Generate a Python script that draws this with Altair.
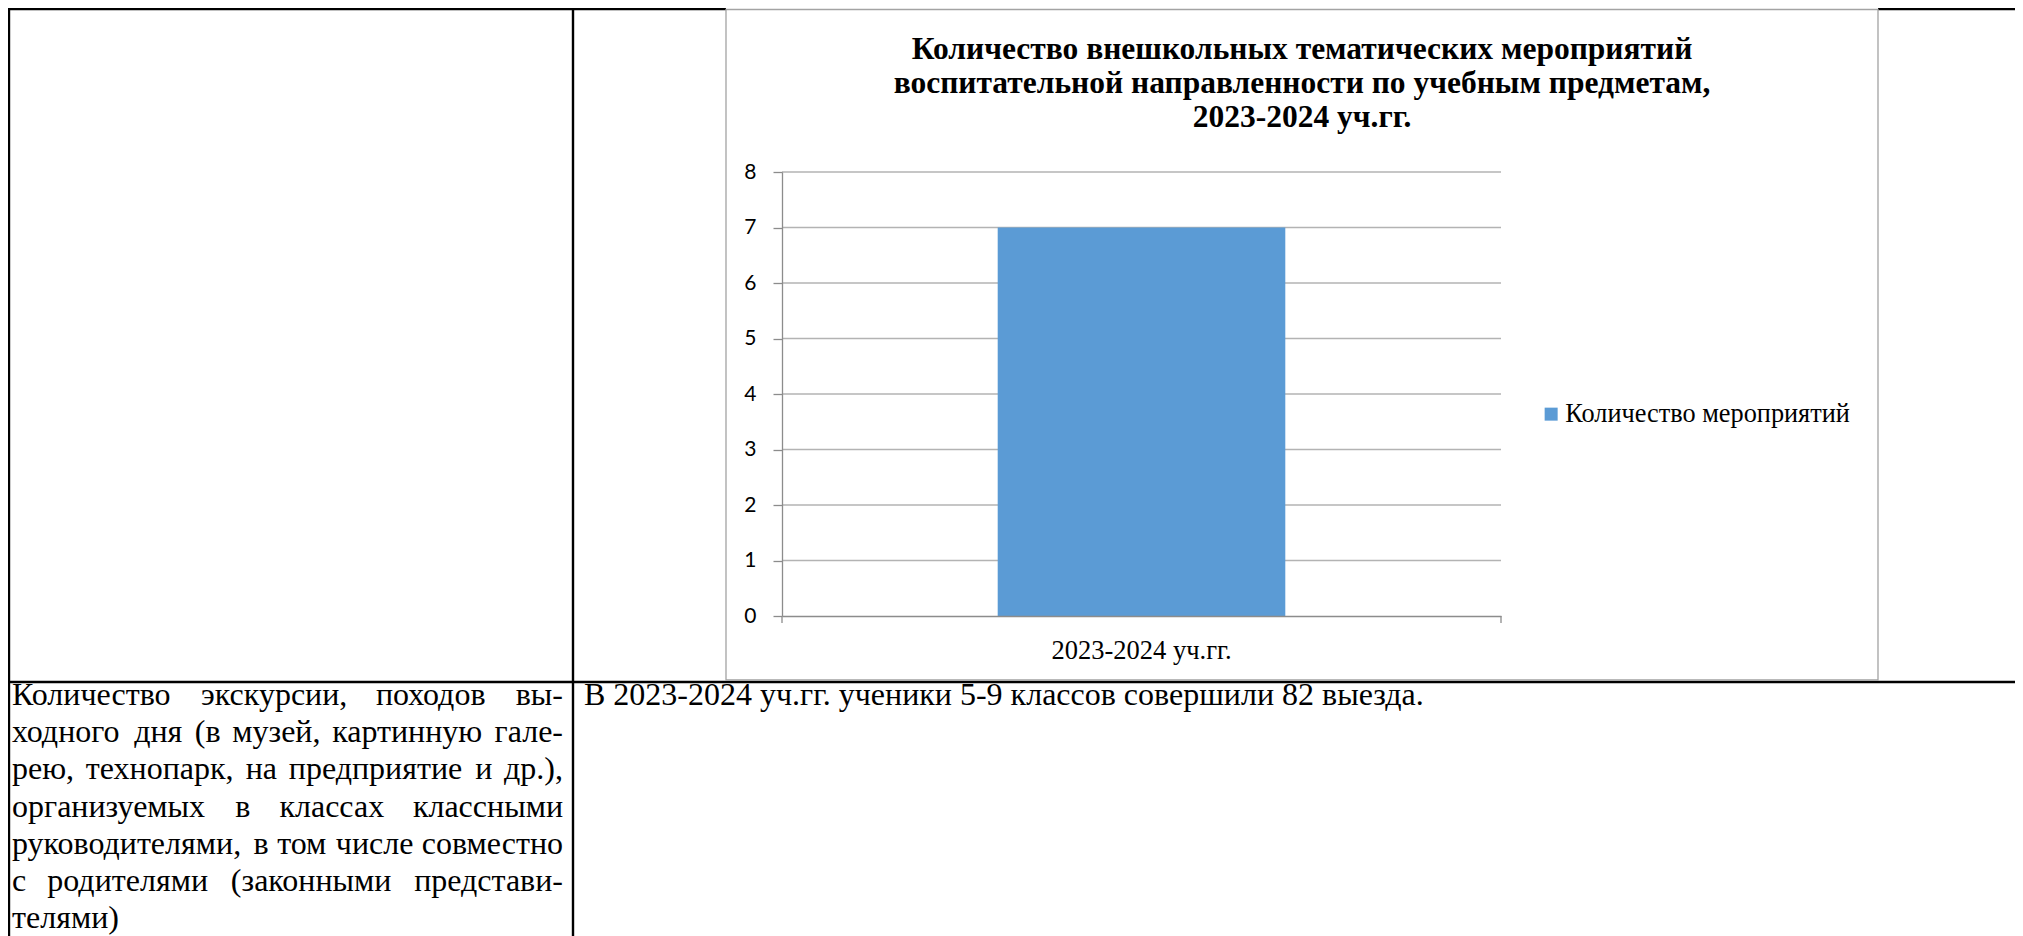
import altair as alt
import pandas as pd

# ---------------- data ----------------
categories = ["2023-2024 уч.гг."]
values = [7]
series_name = ["Количество мероприятий"]
y_ticks = [0, 1, 2, 3, 4, 5, 6, 7, 8]

title_lines = [
    "Количество внешкольных тематических мероприятий",
    "воспитательной направленности по учебным предметам,",
    "2023-2024 уч.гг.",
]
left_cell_lines = [
    "Количество экскурсии, походов вы-",
    "ходного дня (в музей, картинную гале-",
    "рею, технопарк, на предприятие и др.),",
    "организуемых в классах классными",
    "руководителями, в том числе совместно",
    "с родителями (законными представи-",
    "телями)",
]
right_cell_lines = ["В 2023-2024 уч.гг. ученики 5-9 классов совершили 82 выезда."]

# ---------------- layout helpers ----------------
OX, OY = 782, 172          # page position of plot-area origin
PW, PH = 719, 444          # plot area size
one = pd.DataFrame({"k": [0]})
BODY = 32                  # body text size

# approximate Times New Roman advance widths (per 1000 em) for justification
W = {" ": 250, ",": 250, ".": 250, "-": 333, "(": 333, ")": 333}
for d in "0123456789":
    W[d] = 500
W.update(dict(а=444, б=509, в=472, г=410, д=509, е=444, ж=691, з=395, и=535,
              й=535, к=486, л=499, м=633, н=535, о=500, п=535, р=500, с=444,
              т=437, у=500, ф=648, х=500, ц=535, ч=503, ш=770, щ=770, ъ=517,
              ы=672, ь=456, э=429, ю=747, я=486))
W["К"] = 722
W["В"] = 667


def tw(s, size):
    return sum(W.get(c, 500) for c in s) * size / 1000.0


def rule(x1, y1, x2, y2, color="black", width=2.4):
    enc = dict(x=alt.value(x1 - OX), y=alt.value(y1 - OY))
    if x2 != x1:
        enc["x2"] = alt.value(x2 - OX)
    if y2 != y1:
        enc["y2"] = alt.value(y2 - OY)
    return alt.Chart(one).mark_rule(color=color, strokeWidth=width).encode(**enc)


def text(x, y, s, align="left", size=BODY, weight="normal", font="Liberation Serif"):
    return alt.Chart(one).mark_text(
        align=align, baseline="alphabetic", font=font, fontSize=size,
        fontWeight=weight, color="black"
    ).encode(x=alt.value(x - OX), y=alt.value(y - OY), text=alt.value(s))


layers = []

# ---------------- table borders ----------------
layers.append(rule(0, 9, 726, 9))
layers.append(rule(1878, 9, 2030, 9))
layers.append(rule(9, 8, 9, 940))
layers.append(rule(573, 8, 573, 940))
layers.append(rule(0, 682, 2030, 682))

# ---------------- chart box ----------------
layers.append(
    alt.Chart(one).mark_rect(fill="white", stroke="#a3a3a3", strokeWidth=1.3).encode(
        x=alt.value(726 - OX), x2=alt.value(1878 - OX),
        y=alt.value(9.5 - OY), y2=alt.value(680 - OY)
    )
)

# ---------------- axes definitions ----------------
y_axis = alt.Axis(
    title=None, values=y_ticks, grid=False, format="d", labelFont="Lato",
    labelFontSize=21, labelColor="black", tickSize=9, tickColor="#8c8c8c",
    tickWidth=1.3, domainColor="#8c8c8c", domainWidth=1.3, labelPadding=17,
    zindex=1,
)
y_scale = alt.Scale(domain=[0, 8], nice=False)

# ---------------- gridlines ----------------
grid_df = pd.DataFrame({"Деление": y_ticks[1:]})
layers.append(
    alt.Chart(grid_df).mark_rule(color="#b3b3b3", strokeWidth=1.3).encode(
        y=alt.Y("Деление:Q", scale=y_scale, axis=y_axis)
    )
)

# ---------------- bars ----------------
bar_df = pd.DataFrame({"Категория": categories, "Значение": values, "Ряд": series_name})
bars = alt.Chart(bar_df).mark_bar(stroke=None).encode(
    x=alt.X(
        "Категория:N",
        scale=alt.Scale(paddingInner=0.6, paddingOuter=0.3),
        axis=alt.Axis(
            title=None, labelAngle=0, labelFont="Liberation Serif", labelFontSize=26.5,
            labelColor="black", ticks=False, domainColor="#8c8c8c", domainWidth=1.5,
            labelPadding=21, labelLimit=500, zindex=1,
        ),
    ),
    y=alt.Y("Значение:Q", scale=y_scale, axis=y_axis),
    color=alt.Color(
        "Ряд:N",
        scale=alt.Scale(range=["#5b9bd5"]),
        legend=alt.Legend(
            orient="none", legendX=1538 - OX, legendY=401 - OY, title=None,
            symbolType="square", symbolSize=169, symbolStrokeWidth=0,
            labelFont="Liberation Serif", labelFontSize=26.3, labelColor="black",
            labelOffset=1, padding=0, labelLimit=600,
        ),
    ),
)
layers.append(bars)

# category-axis boundary ticks
layers.append(rule(OX, OY + PH, OX, OY + PH + 7, "#8c8c8c", 1.3))
layers.append(rule(OX + PW, OY + PH, OX + PW, OY + PH + 7, "#8c8c8c", 1.3))

# ---------------- chart title ----------------
for i, s in enumerate(title_lines):
    layers.append(text(1302, 59 + 34 * i, s, align="center", size=31.5, weight="bold"))

# ---------------- table text ----------------
X0, X1 = 12, 563
base0, lh = 705, 37.2
for i, line in enumerate(left_cell_lines):
    y = base0 + lh * i
    words = line.split(" ")
    if i == len(left_cell_lines) - 1 or len(words) == 1:
        layers.append(text(X0, y, line))
        continue
    widths = [tw(w, BODY) for w in words]
    gap = (X1 - X0 - sum(widths)) / (len(words) - 1)
    x = X0
    for j, w in enumerate(words):
        if j == len(words) - 1:
            layers.append(text(X1, y, w, align="right"))
        else:
            layers.append(text(x, y, w))
        x += widths[j] + gap

for i, line in enumerate(right_cell_lines):
    layers.append(text(584, base0 + lh * i, line))

chart = alt.layer(*layers).properties(
    width=PW, height=PH,
    autosize=alt.AutoSizeParams(type="none"),
    padding={"left": OX - 8, "top": OY - 8, "right": 2015 - OX - PW, "bottom": 936 - OY - PH},
    background="white",
).configure_view(stroke=None)

chart.save("out.html", embed_options={"renderer": "svg", "actions": False})
